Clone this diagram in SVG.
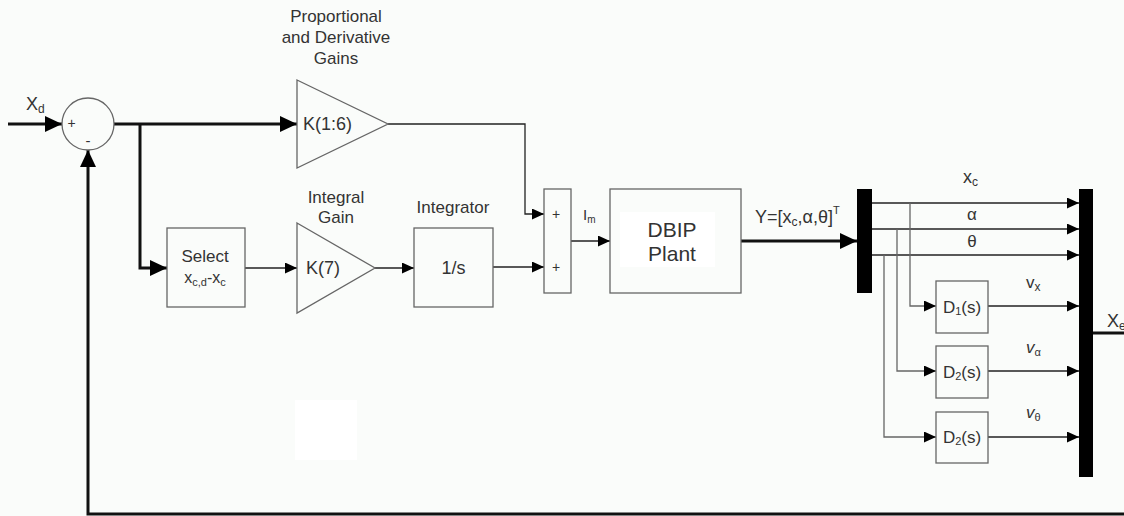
<svg xmlns="http://www.w3.org/2000/svg" width="1124" height="516" viewBox="0 0 1124 516">
<defs>
<style>
text{font-family:"Liberation Sans",Arial,sans-serif;fill:#333}
.lb{font-size:17px}
.k{font-size:18px}
.box{fill:none;stroke:#666;stroke-width:1.3}
.tk{fill:none;stroke:#111;stroke-width:3}
.tn{fill:none;stroke:#222;stroke-width:1.3}
.br{fill:none;stroke:#666;stroke-width:1.3}
.bar{fill:#000}
</style>
<marker id="a" markerUnits="userSpaceOnUse" markerWidth="12" markerHeight="11" viewBox="0 0 12 11" refX="12" refY="5.5" orient="auto"><path d="M0,0 L12,5.5 L0,11 z" fill="#000"/></marker>
<marker id="A" markerUnits="userSpaceOnUse" markerWidth="17" markerHeight="16" viewBox="0 0 17 16" refX="17" refY="8" orient="auto"><path d="M0,0 L17,8 L0,16 z" fill="#000"/></marker>
</defs>
<rect width="1124" height="516" fill="#fafcfa"/>
<rect x="295" y="400" width="62" height="60" fill="#fff"/>

<g id="connectors">
<path class="tk" d="M8,124 H62" marker-end="url(#A)"/>
<path class="tk" d="M114,124 H297" marker-end="url(#A)"/>
<path class="tk" d="M140,124 V268 H167" marker-end="url(#A)"/>
<path class="tk" d="M1124,514 H88 V150" marker-end="url(#A)"/>
<path class="tk" d="M741,241 H857" marker-end="url(#A)"/>
<path class="tk" d="M1093,333 H1124"/>
<path class="tn" d="M388,124 H525 V214 H544" marker-end="url(#a)"/>
<path class="tn" d="M245,268 H297" marker-end="url(#a)"/>
<path class="tn" d="M375,268 H414" marker-end="url(#a)"/>
<path class="tn" d="M493,267 H544" marker-end="url(#a)"/>
<path class="tn" d="M571,241 H610" marker-end="url(#a)"/>
<path class="tn" d="M872,203 H1079" marker-end="url(#a)"/>
<path class="tn" d="M872,229 H1079" marker-end="url(#a)"/>
<path class="tn" d="M872,255 H1079" marker-end="url(#a)"/>
<path class="br" d="M910,203 V306 H936" marker-end="url(#a)"/>
<path class="br" d="M897,229 V371 H936" marker-end="url(#a)"/>
<path class="br" d="M884,255 V437 H936" marker-end="url(#a)"/>
<path class="tn" d="M988,306 H1079" marker-end="url(#a)"/>
<path class="tn" d="M988,371 H1079" marker-end="url(#a)"/>
<path class="tn" d="M988,437 H1079" marker-end="url(#a)"/>
</g>

<g id="labels">
<text x="26" y="110" font-size="18">X<tspan font-size="12" dy="3">d</tspan></text>
<text x="583" y="220" font-size="15">I<tspan font-size="10" dy="3">m</tspan></text>
<text x="755" y="223" font-size="18">Y=[x<tspan font-size="12" dy="3">c</tspan><tspan dy="-3">,α,θ]</tspan><tspan font-size="11" dy="-9">T</tspan></text>
<text x="963" y="183" font-size="18">x<tspan font-size="12" dy="3">c</tspan></text>
<text x="972" y="220" class="lb" text-anchor="middle">α</text>
<text x="972" y="247" class="lb" text-anchor="middle">θ</text>
<text x="1026" y="288" class="lb">v<tspan font-size="12" dy="3">x</tspan></text>
<text x="1026" y="353" class="lb"><tspan font-style="italic">v</tspan><tspan font-size="11" dy="3">α</tspan></text>
<text x="1026" y="418" class="lb"><tspan font-style="italic">v</tspan><tspan font-size="11" dy="3">θ</tspan></text>
<text x="1107" y="327" font-size="18">X<tspan font-size="12" dy="3">e</tspan></text>
</g>

<g id="sum1">
<circle cx="88" cy="124" r="26" fill="none" stroke="#666" stroke-width="1.3"/>
<text x="71.5" y="128" font-size="14" text-anchor="middle">+</text>
<text x="88" y="146" font-size="15" text-anchor="middle">-</text>
</g>

<g id="gain-pd">
<polygon class="box" points="297,80 388,124 297,168"/>
<text x="303" y="130" class="k">K(1:6)</text>
<text x="336" y="22" class="lb" text-anchor="middle">Proportional</text>
<text x="336" y="43" class="lb" text-anchor="middle">and Derivative</text>
<text x="336" y="64" class="lb" text-anchor="middle">Gains</text>
</g>

<g id="select">
<rect class="box" x="167" y="228" width="78" height="79"/>
<text x="205" y="262" class="lb" text-anchor="middle">Select</text>
<text x="205" y="283" font-size="16" text-anchor="middle">x<tspan font-size="11" dy="3">c,d</tspan><tspan dy="-3">-x</tspan><tspan font-size="11" dy="3">c</tspan></text>
</g>

<g id="gain-i">
<polygon class="box" points="297,223 375,268 297,313"/>
<text x="306" y="274" class="k">K(7)</text>
<text x="336" y="203" class="lb" text-anchor="middle">Integral</text>
<text x="336" y="223" class="lb" text-anchor="middle">Gain</text>
</g>

<g id="integrator">
<rect class="box" x="414" y="228" width="79" height="79"/>
<text x="453.5" y="274" class="k" text-anchor="middle">1/s</text>
<text x="453" y="213" class="lb" text-anchor="middle">Integrator</text>
</g>

<g id="sum2">
<rect class="box" x="544" y="189" width="27" height="104"/>
<text x="556" y="219" font-size="14" text-anchor="middle">+</text>
<text x="556" y="272" font-size="14" text-anchor="middle">+</text>
</g>

<g id="plant">
<rect class="box" x="610" y="189" width="131" height="104"/>
<rect x="620" y="212" width="95" height="55" fill="#fff"/>
<text x="672" y="237" font-size="21" text-anchor="middle">DBIP</text>
<text x="672" y="261" font-size="21" text-anchor="middle">Plant</text>
</g>

<g id="demux">
<rect class="bar" x="857" y="189" width="15" height="104"/>
</g>

<g id="d1">
<rect class="box" x="936" y="281" width="52" height="52"/>
<text x="962" y="313" class="lb" text-anchor="middle">D<tspan font-size="11" dy="2">1</tspan><tspan dy="-2">(s)</tspan></text>
</g>
<g id="d2a">
<rect class="box" x="936" y="346" width="52" height="52"/>
<text x="962" y="378" class="lb" text-anchor="middle">D<tspan font-size="11" dy="2">2</tspan><tspan dy="-2">(s)</tspan></text>
</g>
<g id="d2b">
<rect class="box" x="936" y="412" width="52" height="51"/>
<text x="962" y="443" class="lb" text-anchor="middle">D<tspan font-size="11" dy="2">2</tspan><tspan dy="-2">(s)</tspan></text>
</g>

<g id="mux">
<rect class="bar" x="1079" y="189" width="14" height="288"/>
</g>
</svg>
